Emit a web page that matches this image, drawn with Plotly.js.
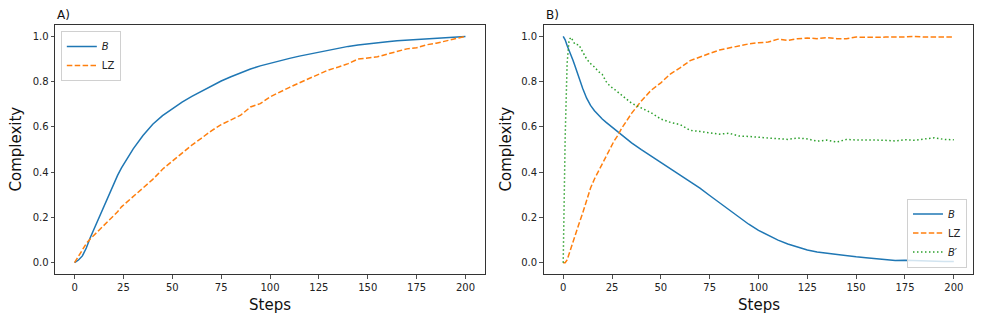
<!DOCTYPE html>
<html>
<head>
<meta charset="utf-8">
<script src="https://cdn.plot.ly/plotly-3.0.1.min.js"></script>
<style>html,body{margin:0;padding:0;background:#fff}#chart{width:981px;height:322px}</style>
</head>
<body>
<div id="chart"></div>
<script>
// ---------- Panel A data ----------
const stepsA = [0,2,4,6,8,10,12,14,16,18,20,22,24,26,28,30,35,40,45,50,55,60,65,70,75,80,85,90,95,100,105,110,115,120,125,130,135,140,145,150,155,160,165,170,175,180,185,190,195,200];
const bA = [0,0.012,0.03,0.065,0.11,0.15,0.19,0.23,0.272,0.311,0.35,0.386,0.419,0.449,0.477,0.503,0.562,0.612,0.65,0.682,0.71,0.735,0.758,0.782,0.803,0.822,0.84,0.856,0.87,0.882,0.892,0.903,0.913,0.922,0.931,0.941,0.949,0.956,0.962,0.968,0.973,0.977,0.981,0.984,0.988,0.991,0.994,0.996,0.998,1.0];
const lzA = [0,0.03,0.055,0.085,0.105,0.122,0.14,0.155,0.172,0.188,0.205,0.225,0.247,0.262,0.277,0.292,0.33,0.368,0.413,0.45,0.485,0.52,0.551,0.583,0.61,0.632,0.652,0.688,0.703,0.733,0.755,0.775,0.795,0.815,0.835,0.852,0.865,0.88,0.9,0.905,0.91,0.922,0.935,0.945,0.95,0.963,0.97,0.98,0.99,1.0];

// ---------- Panel B data ----------
const stepsB = [0,1,2,3,4,5,6,8,10,12,14,16,18,20,22,24,26,28,30,35,40,45,50,55,60,65,70,75,80,85,90,95,100,105,110,115,120,125,130,135,140,145,150,155,160,165,170,175,180,185,190,195,200];
const bB = [1.0,0.985,0.96,0.94,0.915,0.895,0.87,0.815,0.77,0.727,0.695,0.672,0.652,0.635,0.62,0.606,0.592,0.578,0.565,0.53,0.5,0.472,0.445,0.415,0.386,0.358,0.33,0.297,0.265,0.233,0.2,0.17,0.143,0.12,0.1,0.083,0.068,0.056,0.047,0.041,0.036,0.03,0.026,0.022,0.018,0.013,0.01,0.011,0.009,0.007,0.006,0.005,0.005];
const lzB = [0,0,0.012,0.04,0.065,0.09,0.115,0.17,0.22,0.275,0.33,0.37,0.403,0.44,0.475,0.508,0.537,0.563,0.595,0.66,0.715,0.762,0.795,0.835,0.862,0.893,0.91,0.925,0.94,0.95,0.96,0.967,0.972,0.975,0.988,0.982,0.99,0.993,0.99,0.995,0.99,0.99,0.997,0.995,0.996,0.997,0.996,0.998,1.0,0.997,0.998,0.997,0.998];
const bpB = [0,0.55,0.88,0.985,0.996,0.98,0.965,0.963,0.93,0.9,0.88,0.865,0.845,0.832,0.8,0.78,0.768,0.755,0.74,0.705,0.685,0.663,0.635,0.62,0.61,0.585,0.58,0.575,0.568,0.572,0.56,0.558,0.553,0.551,0.548,0.545,0.551,0.547,0.537,0.542,0.533,0.545,0.542,0.543,0.542,0.541,0.538,0.544,0.541,0.547,0.552,0.545,0.543];

const xTicks = [0,25,50,75,100,125,150,175,200];
const yTicks = [0,0.2,0.4,0.6,0.8,1.0];
const panelTitles = ['A)','B)'];
const xLabel = 'Steps';
const yLabel = 'Complexity';

const C_BLUE = '#1f77b4', C_ORANGE = '#ff7f0e', C_GREEN = '#2ca02c';
const DASHED = '5.5px,2.4px';
const DOTTED = '1.5px,2.5px';

const traces = [
  {x: stepsA, y: bA, name: '<i>B</i>', mode: 'lines', line: {color: C_BLUE, width: 1.5}, xaxis: 'x', yaxis: 'y', legend: 'legend'},
  {x: stepsA, y: lzA, name: 'LZ', mode: 'lines', line: {color: C_ORANGE, width: 1.5, dash: DASHED}, xaxis: 'x', yaxis: 'y', legend: 'legend'},
  {x: stepsB, y: bB, name: '<i>B</i>', mode: 'lines', line: {color: C_BLUE, width: 1.5}, xaxis: 'x2', yaxis: 'y2', legend: 'legend2'},
  {x: stepsB, y: lzB, name: 'LZ', mode: 'lines', line: {color: C_ORANGE, width: 1.5, dash: DASHED}, xaxis: 'x2', yaxis: 'y2', legend: 'legend2'},
  {x: stepsB, y: bpB, name: '<i>B</i>′', mode: 'lines', line: {color: C_GREEN, width: 1.5, dash: DOTTED}, xaxis: 'x2', yaxis: 'y2', legend: 'legend2'}
];

const fontFam = 'DejaVu Sans, sans-serif';
function xax(domain, anchor) {
  return {domain: domain, anchor: anchor, range: [-10, 210], tickvals: xTicks, ticks: 'outside', ticklen: 3.5, tickwidth: 0.8, tickcolor: '#222',
    showline: true, mirror: true, linecolor: '#333', linewidth: 1, showgrid: false, zeroline: false,
    tickfont: {family: fontFam, size: 10, color: '#222'}};
}
function yax(anchor) {
  return {domain: [0.149, 0.922], anchor: anchor, range: [-0.05, 1.05], tickvals: yTicks, tickformat: '.1f', ticks: 'outside', ticklen: 3.5, tickwidth: 0.8, tickcolor: '#222',
    showline: true, mirror: true, linecolor: '#333', linewidth: 1, showgrid: false, zeroline: false,
    tickfont: {family: fontFam, size: 10, color: '#222'}};
}
const legendBase = {bgcolor: 'rgba(255,255,255,0.8)', bordercolor: '#d0d0d0', borderwidth: 1, font: {family: fontFam, size: 10, color: '#222'}, tracegroupgap: 0, itemwidth: 30};

const layout = {
  width: 981, height: 322,
  margin: {l: 0, r: 0, t: 0, b: 0},
  paper_bgcolor: '#fff', plot_bgcolor: '#fff',
  font: {family: fontFam, color: '#222'},
  xaxis: xax([0.0561, 0.4944], 'y'),
  yaxis: yax('x'),
  xaxis2: xax([0.5542, 0.9922], 'y2'),
  yaxis2: yax('x2'),
  legend: Object.assign({x: 0.062, y: 0.904, xanchor: 'left', yanchor: 'top'}, legendBase),
  legend2: Object.assign({x: 0.9857, y: 0.169, xanchor: 'right', yanchor: 'bottom'}, legendBase),
  annotations: [
    {text: panelTitles[0], xref: 'paper', yref: 'paper', x: 0.0561, y: 0.922, xanchor: 'left', yanchor: 'bottom', yshift: 1, showarrow: false, font: {family: fontFam, size: 12, color: '#111'}},
    {text: panelTitles[1], xref: 'paper', yref: 'paper', x: 0.5542, y: 0.922, xanchor: 'left', yanchor: 'bottom', yshift: 1, showarrow: false, font: {family: fontFam, size: 12, color: '#111'}},
    {text: yLabel, xref: 'paper', yref: 'paper', x: 0.0153, y: 0.5357, xanchor: 'center', yanchor: 'middle', textangle: -90, showarrow: false, font: {family: fontFam, size: 15, color: '#111'}},
    {text: yLabel, xref: 'paper', yref: 'paper', x: 0.5148, y: 0.5357, xanchor: 'center', yanchor: 'middle', textangle: -90, showarrow: false, font: {family: fontFam, size: 15, color: '#111'}},
    {text: xLabel, xref: 'paper', yref: 'paper', x: 0.2752, y: 0.0528, xanchor: 'center', yanchor: 'middle', showarrow: false, font: {family: fontFam, size: 15, color: '#111'}},
    {text: xLabel, xref: 'paper', yref: 'paper', x: 0.7732, y: 0.0528, xanchor: 'center', yanchor: 'middle', showarrow: false, font: {family: fontFam, size: 15, color: '#111'}}
  ]
};

Plotly.newPlot('chart', traces, layout, {staticPlot: true, displayModeBar: false});
</script>
</body>
</html>
